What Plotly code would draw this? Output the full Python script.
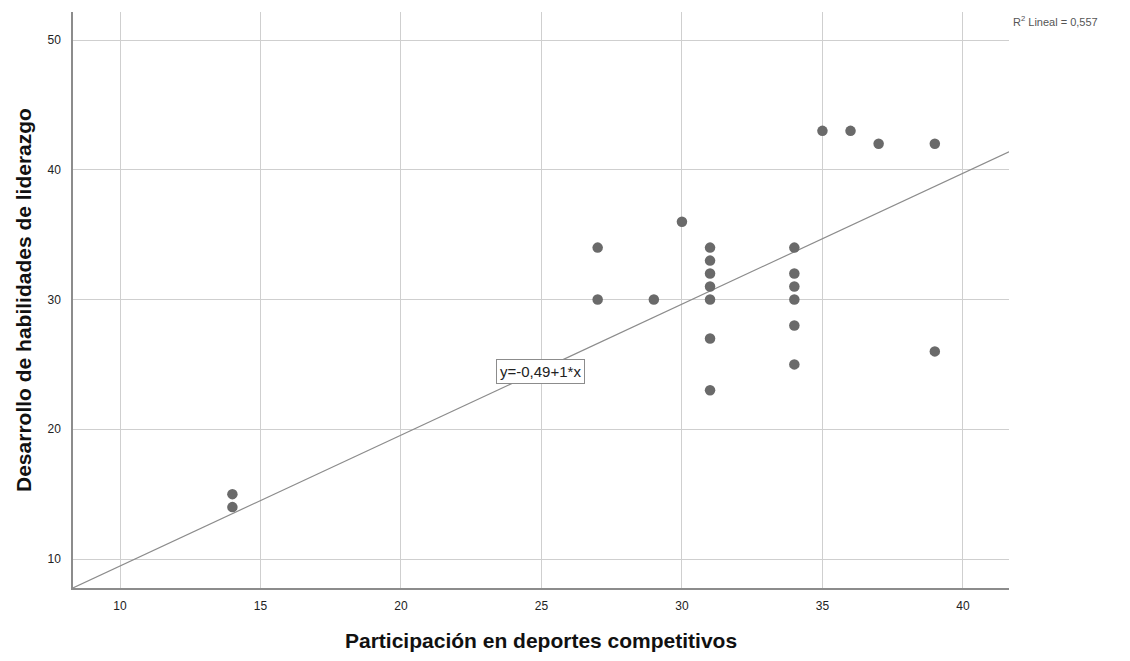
import plotly.graph_objects as go
import numpy as np

x_vals = [14, 14, 27, 27, 29, 30, 31, 31, 31, 31, 31, 31, 31, 34, 34, 34, 34, 34, 34, 35, 36, 37, 39, 39]
y_vals = [15, 14, 34, 30, 30, 36, 34, 33, 32, 31, 30, 27, 23, 34, 32, 31, 30, 28, 25, 43, 43, 42, 42, 26]
intercept = -0.63
slope = 1.009
r2_text = "R<sup>2</sup> Lineal = 0,557"
eq_text = "y=-0,49+1*x"
eq_pos = [24.97, 24.45]
x_range = [8.327, 41.64]
y_range = [7.765, 52.16]
x_ticks = [10, 15, 20, 25, 30, 35, 40]
y_ticks = [10, 20, 30, 40, 50]

fig = go.Figure()
lx = np.array(x_range)
fig.add_trace(go.Scatter(x=lx, y=intercept + slope * lx, mode="lines",
                         line=dict(color="#8c8c8c", width=1.2), hoverinfo="skip", showlegend=False))
fig.add_trace(go.Scatter(x=x_vals, y=y_vals, mode="markers",
                         marker=dict(color="#6a6a6a", size=10.5, line=dict(width=0)),
                         showlegend=False))

fig.add_annotation(x=eq_pos[0], y=eq_pos[1], text=eq_text, showarrow=False,
                   font=dict(family="Liberation Sans", size=15, color="#222"),
                   bgcolor="white", bordercolor="#8c8c8c", borderwidth=1, borderpad=3,
                   xanchor="center", yanchor="middle")
fig.add_annotation(xref="paper", yref="paper", x=1.0, y=0.985, xshift=2,
                   text=r2_text, showarrow=False, xanchor="left", yanchor="middle",
                   font=dict(family="Liberation Sans", size=11, color="#555"))
fig.add_annotation(xref="paper", yref="paper", x=0.5, y=0, yshift=-52,
                   text="Participación en deportes competitivos", showarrow=False,
                   xanchor="center", yanchor="middle",
                   font=dict(family="Liberation Sans", size=21, color="#111", weight="bold"))
fig.add_annotation(xref="paper", yref="paper", x=0, y=0.5, xshift=-50,
                   text="Desarrollo de habilidades de liderazgo", showarrow=False, textangle=-90,
                   xanchor="center", yanchor="middle",
                   font=dict(family="Liberation Sans", size=21, color="#111", weight="bold"))

fig.update_layout(
    width=1122, height=653,
    margin=dict(l=65, r=121, t=4, b=73),
    plot_bgcolor="white", paper_bgcolor="white",
    font=dict(family="Liberation Sans", color="#222"),
    xaxis=dict(range=x_range, tickvals=x_ticks, showgrid=True, gridcolor="#cfcfcf", gridwidth=1,
               zeroline=False, showline=True, linecolor="#8c8c8c", linewidth=1.5, automargin=False,
               ticks="outside", ticklen=6, tickcolor="rgba(0,0,0,0)",
               tickfont=dict(size=12, family="Liberation Sans Narrow, Liberation Sans", color="#222")),
    yaxis=dict(range=y_range, tickvals=y_ticks, showgrid=True, gridcolor="#cfcfcf", gridwidth=1,
               zeroline=False, showline=True, linecolor="#8c8c8c", linewidth=1.5, automargin=False,
               ticks="outside", ticklen=8, tickcolor="rgba(0,0,0,0)",
               tickfont=dict(size=12, family="Liberation Sans", color="#222")),
)
fig.write_html("out.html")
